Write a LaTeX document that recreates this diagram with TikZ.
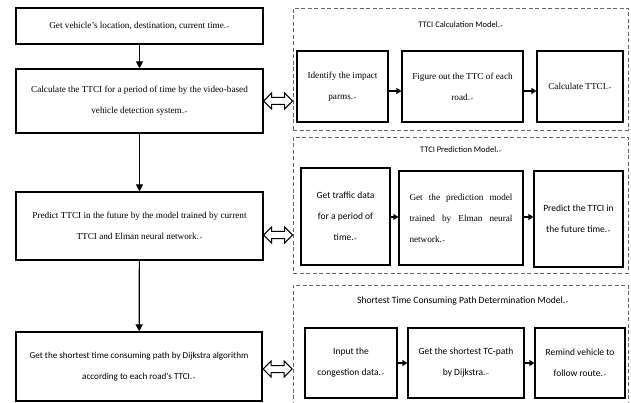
\documentclass[tikz,border=0pt]{standalone}
\usepackage{fontspec}
\setmainfont{Liberation Serif}
\newfontfamily\calib{Carlito}
\newfontfamily\dvs{DejaVu Sans}
\usetikzlibrary{arrows.meta}
% small pilcrow-like end-of-paragraph mark
\newcommand\pmk{{\dvs\fontsize{3.5}{4}\selectfont\,↵}}
\tikzset{
  box/.style={draw, line width=1.2pt, inner sep=0pt, align=center},
  sbox/.style={box, font=\fontsize{9.2}{21}\selectfont},
  cbox/.style={box, font=\calib\fontsize{9.5}{21}\selectfont},
  frame/.style={draw=black!60, dash pattern=on 4pt off 2.5pt, line width=0.8pt, inner sep=0pt},
  ttl/.style={font=\calib\fontsize{8.5}{10}\selectfont, inner sep=0pt},
  varr/.style={line width=1.2pt, -{Triangle[length=7pt,width=7pt]}},
  harr/.style={line width=1.2pt, -{Triangle[length=5pt,width=6pt]}},
  pics/dblarr/.style={code={
    \draw[line width=1pt, fill=white]
      (-14.5,0) -- (-6.5,-8) -- (-6.5,-3.5) -- (6.5,-3.5) -- (6.5,-8) -- (14.5,0)
      -- (6.5,8) -- (6.5,3.5) -- (-6.5,3.5) -- (-6.5,8) -- cycle;}}
}
\begin{document}
\begin{tikzpicture}[x=1pt,y=-1pt]
\useasboundingbox[fill=white] (0,0) rectangle (631,403);

% main column
\node[sbox, minimum width=247pt, minimum height=36pt] (m1) at (139.5,26)
  {Get vehicle’s\ location, destination,\ current time.\pmk};
\node[sbox, minimum width=247pt, minimum height=64pt] (m2) at (139.5,101)
  {Calculate the TTCI for a period of time by the video-based\\ vehicle\ detection\ system.\pmk};
\node[sbox, minimum width=247pt, minimum height=68pt] (m3) at (139.5,226)
  {Predict TTCI in the future by the model trained\ by current\\ TTCI and Elman neural network.\pmk};
\node[cbox, font=\calib\fontsize{9.1}{21}\selectfont, minimum width=246pt, minimum height=69pt] (m4) at (139,366.5)
  {Get the shortest time consuming path by Dijkstra algorithm\\ according to each road's TTCI.\pmk};

\draw[varr] (m1) -- (m2);
\draw[varr] (m2) -- (m3);
\draw[varr] (m3) -- (m4);

% model frames
\node[frame, minimum width=335pt, minimum height=122pt] (f1) at (460.5,69) {};
\node[frame, minimum width=335pt, minimum height=136pt] (f2) at (460.5,205) {};
\node[frame, minimum width=335pt, minimum height=130pt] (f3) at (460.5,350) {};

\node[ttl] (t1) at (461,25) {TTCI Calculation Model.\pmk};
\node[ttl] (t2) at (461,150) {TTCI Prediction Model.\pmk};
\node[ttl, font=\calib\fontsize{9.6}{10}\selectfont] (t3) at (463,301) {Shortest Time Consuming Path Determination Model.\pmk};

% calculation model
\node[sbox, minimum width=91pt, minimum height=71pt] (a1) at (342.5,86.5)
  {Identify the impact\\ parms.\pmk};
\node[sbox, minimum width=121pt, minimum height=71pt] (a2) at (462.5,86.5)
  {Figure out the TTC of each\\ road.\pmk};
\node[sbox, minimum width=86pt, minimum height=71pt] (a3) at (580,86.5)
  {Calculate TTCI.\pmk};
\draw[harr] ([yshift=-4.5pt]a1.east) -- ([yshift=-4.5pt]a2.west);
\draw[harr] ([yshift=-4.5pt]a2.east) -- ([yshift=-4.5pt]a3.west);

% prediction model
\node[cbox, minimum width=89pt, minimum height=97pt] (b1) at (345.5,216.5)
  {Get traffic data\\ for a period of\\ time.\pmk};
\node[sbox, minimum width=124pt, minimum height=94pt] (b2) at (461,218)
  {\makebox[103pt][s]{Get the prediction model}\\
   \makebox[103pt][s]{trained by Elman neural}\\
   \makebox[103pt][l]{network.\pmk}};
\node[cbox, minimum width=89pt, minimum height=96pt] (b3) at (578.5,219)
  {Predict the TTCI in\\ the future time.\pmk};
\draw[harr] (b1.east |- 0,217) -- (b2.west |- 0,217);
\draw[harr] (b2.east |- 0,217) -- (b3.west |- 0,217);

% path determination model
\node[cbox, minimum width=92pt, minimum height=70pt] (c1) at (351,363)
  {Input the\\ congestion data.\pmk};
\node[cbox, minimum width=116pt, minimum height=70pt] (c2) at (466,363)
  {Get the shortest TC-path\\ by Dijkstra.\pmk};
\node[cbox, minimum width=90pt, minimum height=70pt] (c3) at (580,363)
  {Remind vehicle to\\ follow route.\pmk};
\draw[harr] (c1) -- (c2);
\draw[harr] (c2) -- (c3);

% links between main steps and models
\path (m2.east) -- (f1.west |- m2.east) pic[pos=0.5]{dblarr};
\path (m3.east |- 0,235) -- (f2.west |- 0,235) pic[pos=0.5]{dblarr};
\path (m4.east |- 0,369) -- (f3.west |- 0,369) pic[pos=0.5]{dblarr};
\end{tikzpicture}
\end{document}
